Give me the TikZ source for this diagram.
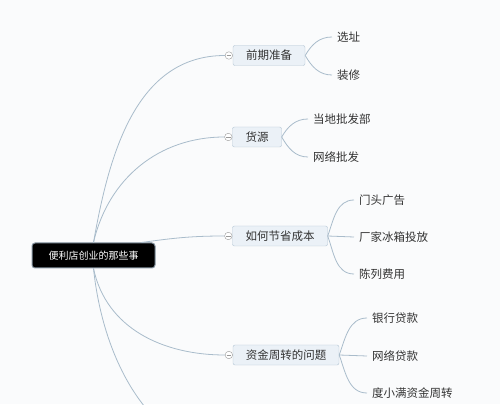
\documentclass[tikz,border=0pt]{standalone}
\usepackage{fontspec}
\newfontfamily\cjk{Noto Sans CJK SC}
\usetikzlibrary{positioning}
\definecolor{bgcol}{HTML}{FAFBFC}
\definecolor{linecol}{HTML}{A9BCCB}
\definecolor{boxfill}{HTML}{EBF1F7}
\definecolor{boxdraw}{HTML}{B3C5D4}
\definecolor{txtcol}{HTML}{333333}
\begin{document}
\begin{tikzpicture}[x=1pt, y=1pt,
  root/.style={draw=linecol!80!black, line width=1pt, fill=black, rounded corners=3pt, text=white,
    font=\cjk\fontsize{10}{12}\selectfont, minimum width=123pt, minimum height=25pt, inner sep=0pt},
  branch/.style={draw=boxdraw, fill=boxfill, rounded corners=2pt, text=txtcol,
    font=\cjk\fontsize{11.5}{14}\selectfont, minimum height=20pt, inner sep=0pt},
  leaf/.style={text=txtcol, font=\cjk\fontsize{11.5}{14}\selectfont, anchor=west, inner xsep=5pt, inner ysep=2pt},
  toggle/.style={circle, draw=gray!80, fill=white, minimum size=7.5pt, inner sep=0pt,
    path picture={\draw[gray!80] ([xshift=1.6pt]path picture bounding box.west) -- ([xshift=-1.6pt]path picture bounding box.east);}},
  mainline/.style={draw=linecol, line width=0.8pt},
  leafline/.style={draw=linecol, line width=0.8pt}]
\fill[bgcol] (0,0) rectangle (500,404);
\useasboundingbox (0,0) rectangle (500,404);
\clip (0,0) rectangle (500,404);
% Nodes
\node[root] (root) at (93.5,148.5) {便利店创业的那些事};
\node[branch, minimum width=72pt] (prep) at (269,348.5) {前期准备};
\node[branch, minimum width=49pt] (goods) at (257,267) {货源};
\node[branch, minimum width=95pt] (cost) at (280,168) {如何节省成本};
\node[branch, minimum width=106pt] (fund) at (286,49) {资金周转的问题};
\node[toggle, left=0pt of prep] (prepdot) {};
\node[toggle, left=0pt of goods] (goodsdot) {};
\node[toggle, left=0pt of cost] (costdot) {};
\node[toggle, left=0pt of fund] (funddot) {};
\coordinate (nextdot) at (250,-55);
% Leaves
\node[leaf] (site) at (332,367) {选址};
\node[leaf] (decor) at (332,329) {装修};
\node[leaf] (local) at (308,285) {当地批发部};
\node[leaf] (online) at (308,247) {网络批发};
\node[leaf] (sign) at (354,204) {门头广告};
\node[leaf] (fridge) at (354,167) {厂家冰箱投放};
\node[leaf] (display) at (354,130) {陈列费用};
\node[leaf] (bank) at (367,86) {银行贷款};
\node[leaf] (loan) at (367,48) {网络贷款};
\node[leaf] (dxm) at (367,11) {度小满资金周转};
% Lines
\draw[mainline] (root.north) to[out=80, in=180] (prepdot.west);
\draw[mainline] (root.north) to[out=77, in=180] (goodsdot.west);
\draw[mainline] ([xshift=48pt]root.north) to[out=8, in=180] (costdot.west);
\draw[mainline] (root.south) to[out=-78, in=180] (funddot.west);
\draw[mainline] (root.south) to[out=-84, in=180] (nextdot);
\draw[leafline] (prep.east) to[out=60, in=180] (site.west);
\draw[leafline] (prep.east) to[out=-60, in=180] (decor.west);
\draw[leafline] (goods.east) to[out=60, in=180] (local.west);
\draw[leafline] (goods.east) to[out=-60, in=180] (online.west);
\draw[leafline] (cost.east) to[out=70, in=180] (sign.west);
\draw[leafline] (cost.east) -- (fridge.west);
\draw[leafline] (cost.east) to[out=-70, in=180] (display.west);
\draw[leafline] (fund.east) to[out=70, in=180] (bank.west);
\draw[leafline] (fund.east) -- (loan.west);
\draw[leafline] (fund.east) to[out=-70, in=180] (dxm.west);
\end{tikzpicture}
\end{document}
